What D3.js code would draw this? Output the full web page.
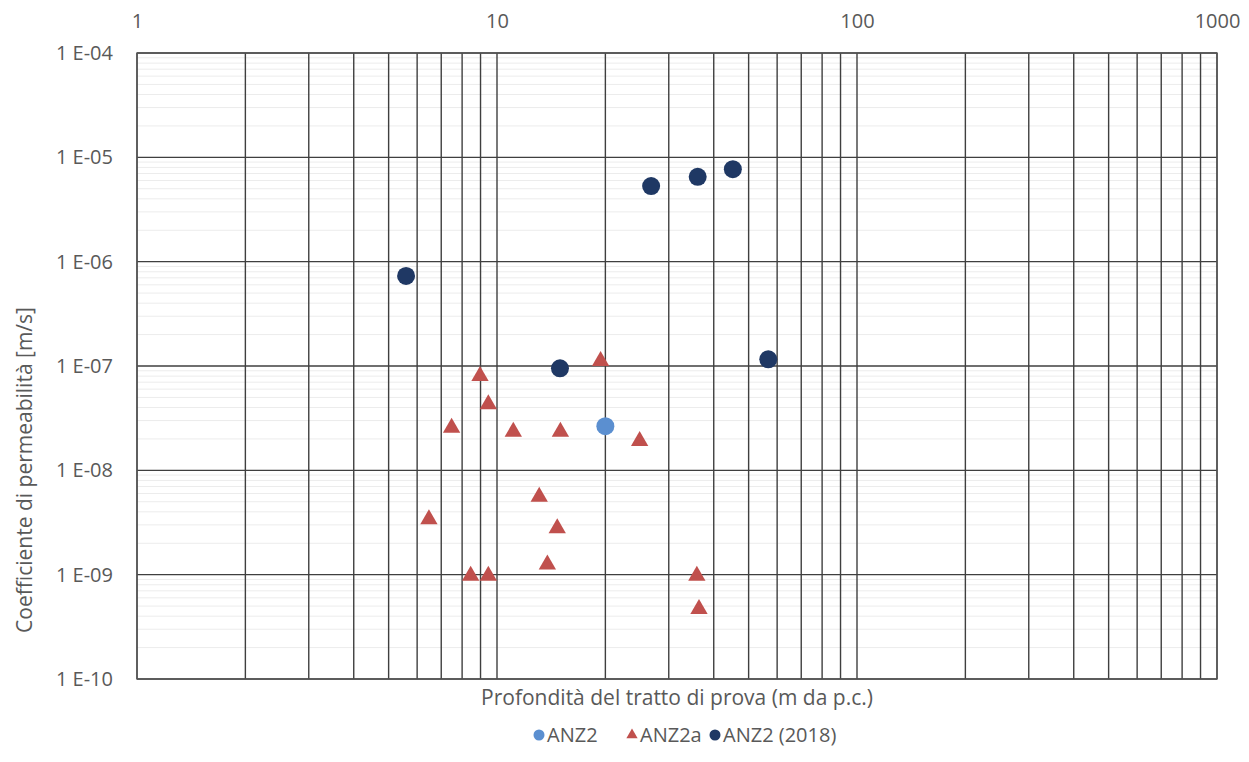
<!DOCTYPE html>
<html><head><meta charset="utf-8">
<script src="https://cdn.jsdelivr.net/npm/d3@7"></script>
<style>body{margin:0;background:#fff;} text{font-family:"Open Sans", sans-serif;}</style>
</head><body>
<svg id="c" width="1249" height="762"></svg>
<script>
const xTickLabels = ["1","10","100","1000"];
const xTickValues = [1,10,100,1000];
const yTickValues = [1e-4,1e-5,1e-6,1e-7,1e-8,1e-9,1e-10];
const yTickLabels = ["1 E-04","1 E-05","1 E-06","1 E-07","1 E-08","1 E-09","1 E-10"];
const seriesNames = ["ANZ2","ANZ2a","ANZ2 (2018)"];

const anz2X = [20];
const anz2Y = [2.65e-8];

const anz2aX = [19.4, 8.97, 9.46, 7.48, 11.1, 15.0, 24.9, 13.1, 6.47, 14.7, 13.8, 8.45, 9.46, 35.9, 36.4];
const anz2aY = [1.14e-7, 8.2e-8, 4.4e-8, 2.62e-8, 2.4e-8, 2.4e-8, 1.95e-8, 5.7e-9, 3.47e-9, 2.84e-9, 1.28e-9, 1e-9, 1e-9, 1e-9, 4.8e-10];

const anz2018X = [5.59, 14.96, 26.8, 36.1, 45.2, 56.7];
const anz2018Y = [7.3e-7, 9.5e-8, 5.3e-6, 6.5e-6, 7.7e-6, 1.16e-7];

const svg = d3.select("#c");
const L = 137, R = 1217, T = 53, B = 679;
const x = d3.scaleLog().domain([1,1000]).range([L,R]);
const y = d3.scaleLog().domain([1e-10,1e-4]).range([B,T]);
const txtCol = "#595959";
const fs = "20px";

// minor horizontal gridlines (faint)
const yMinor = [];
for (let e=-10;e<-4;e++) for (let m=2;m<=9;m++) yMinor.push(m*Math.pow(10,e));
svg.append("g").selectAll("line").data(yMinor).join("line")
  .attr("x1",L).attr("x2",R).attr("y1",d=>y(d)).attr("y2",d=>y(d))
  .attr("stroke","#ececec").attr("stroke-width",1);

// vertical gridlines
const xGrid = [];
for (let e=0;e<3;e++) for (let m=1;m<=9;m++) xGrid.push(m*Math.pow(10,e));
xGrid.push(1000);
svg.append("g").selectAll("line").data(xGrid).join("line")
  .attr("x1",d=>x(d)).attr("x2",d=>x(d)).attr("y1",T).attr("y2",B)
  .attr("stroke","#3f3f3f").attr("stroke-width",1.4);

// major horizontal gridlines
svg.append("g").selectAll("line").data(yTickValues).join("line")
  .attr("x1",L).attr("x2",R).attr("y1",d=>y(d)).attr("y2",d=>y(d))
  .attr("stroke","#3f3f3f").attr("stroke-width",1.4);

// border
svg.append("rect").attr("x",L).attr("y",T).attr("width",R-L).attr("height",B-T)
  .attr("fill","none").attr("stroke","#555").attr("stroke-width",1.4);

// top axis labels
const xAx = d3.axisTop(x).tickValues(xTickValues).tickFormat((d,i)=>xTickLabels[i]).tickSize(0).tickPadding(0);
const gx = svg.append("g").attr("transform",`translate(0,28)`).call(xAx);
gx.select(".domain").remove();
gx.selectAll("text").attr("fill",txtCol).style("font-size",fs).attr("dy","0");

// left axis labels
const yAx = d3.axisLeft(y).tickValues(yTickValues).tickFormat((d,i)=>yTickLabels[i]).tickSize(0).tickPadding(0);
const gy = svg.append("g").attr("transform",`translate(113,0)`).call(yAx);
gy.select(".domain").remove();
gy.selectAll("text").attr("fill",txtCol).style("font-size",fs);

// axis titles
svg.append("text").attr("x",677).attr("y",705).attr("text-anchor","middle")
  .attr("fill",txtCol).style("font-size","21px").text("Profondità del tratto di prova (m da p.c.)");
svg.append("text").attr("transform","translate(32,470) rotate(-90)").attr("text-anchor","middle")
  .attr("fill",txtCol).style("font-size","21px").text("Coefficiente di permeabilità [m/s]");

const colBlue = "#5b8fd0", colRed = "#c0504d", colNavy = "#1f3864";
const tri = d3.symbol().type(d3.symbolTriangle).size(130);

// ANZ2a triangles
svg.append("g").selectAll("path").data(anz2aX.map((v,i)=>[v,anz2aY[i]])).join("path")
  .attr("d",tri).attr("transform",d=>`translate(${x(d[0])},${y(d[1])+1})`).attr("fill",colRed);
// ANZ2
svg.append("g").selectAll("circle").data(anz2X.map((v,i)=>[v,anz2Y[i]])).join("circle")
  .attr("cx",d=>x(d[0])).attr("cy",d=>y(d[1])).attr("r",9).attr("fill",colBlue);
// ANZ2 2018
svg.append("g").selectAll("circle").data(anz2018X.map((v,i)=>[v,anz2018Y[i]])).join("circle")
  .attr("cx",d=>x(d[0])).attr("cy",d=>y(d[1])).attr("r",9).attr("fill",colNavy);

// legend
const lg = svg.append("g");
const ly = 735;
lg.append("circle").attr("cx",539).attr("cy",ly).attr("r",5.5).attr("fill",colBlue);
lg.append("text").attr("x",547).attr("y",ly+7).attr("fill",txtCol).style("font-size",fs).text(seriesNames[0]);
lg.append("path").attr("d",d3.symbol().type(d3.symbolTriangle).size(55)).attr("transform",`translate(632,${ly})`).attr("fill",colRed);
lg.append("text").attr("x",640).attr("y",ly+7).attr("fill",txtCol).style("font-size",fs).text(seriesNames[1]);
lg.append("circle").attr("cx",715).attr("cy",ly).attr("r",5.5).attr("fill",colNavy);
lg.append("text").attr("x",723).attr("y",ly+7).attr("fill",txtCol).style("font-size",fs).text(seriesNames[2]);
</script>
</body></html>
